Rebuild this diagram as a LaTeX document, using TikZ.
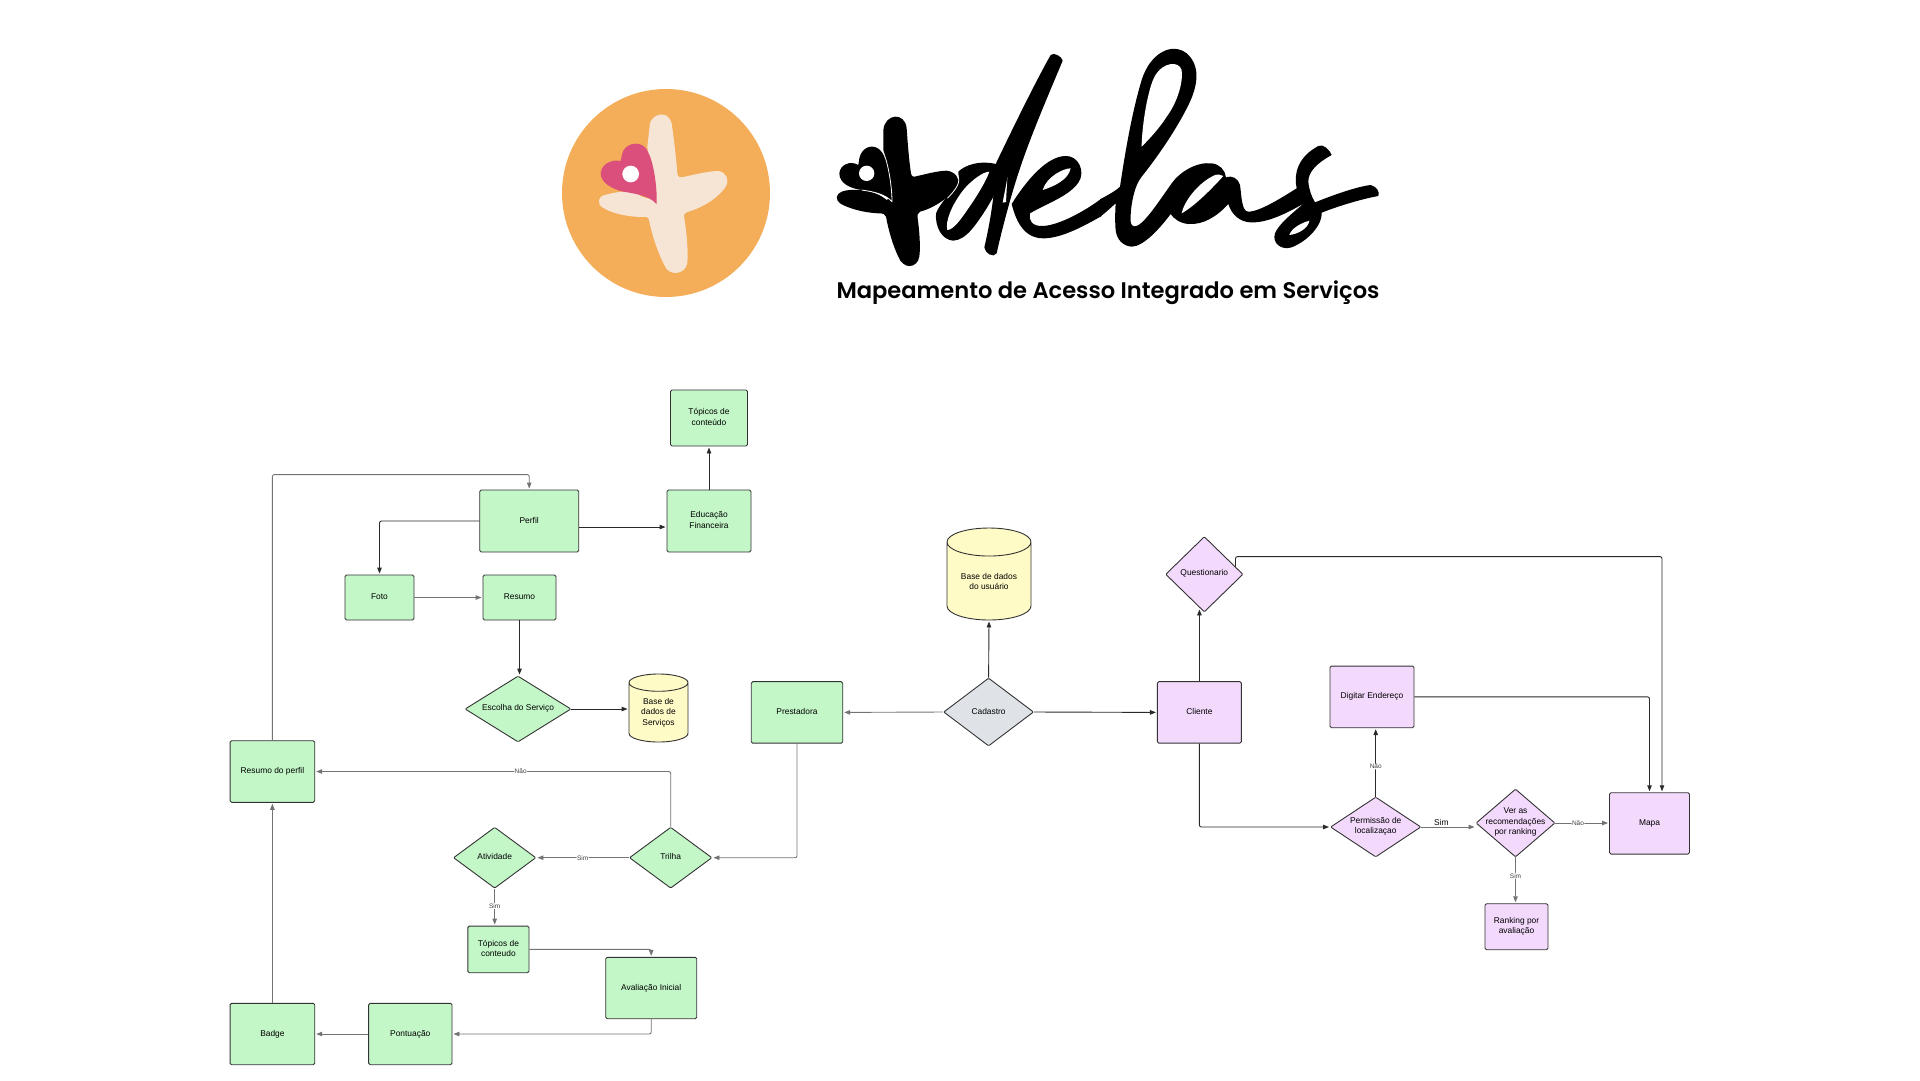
\documentclass[tikz,border=0pt]{standalone}
\usepackage{fontspec}
\setmainfont{Liberation Sans}
\newfontfamily\fonttitulo{Poppins}[UprightFont=* SemiBold]
\usetikzlibrary{shapes.geometric,arrows.meta}
\definecolor{verde}{HTML}{C3F7C8}
\definecolor{lilas}{HTML}{F3D9FC}
\definecolor{amarelo}{HTML}{FFFBC7}
\definecolor{cinza}{HTML}{DFE3E8}
\definecolor{laranja}{HTML}{F4AD59}
\definecolor{creme}{HTML}{F6E5D4}
\definecolor{rosa}{HTML}{DB4F7C}
\definecolor{contorno}{HTML}{333333}
\newcommand{\fonteno}{\fontsize{8.4}{10.3}\selectfont}
\newcommand{\textolosango}[1]{\raisebox{-2.5pt}{\makebox[0pt]{\smash{\parbox[c]{80pt}{\centering #1}}}}}
\begin{document}
\begin{tikzpicture}[x=1pt,y=-1pt,line join=round,font=\fonteno,
	caixa/.style={draw=contorno,line width=0.9pt,rounded corners=1.5pt,align=center,inner sep=1pt,text depth=2pt},
	losango/.style={diamond,draw=contorno,line width=0.9pt,rounded corners=1pt,inner sep=0pt},
	banco/.style={cylinder,shape border rotate=90,anchor=shape center,draw=contorno,line width=0.9pt,fill=amarelo,align=center,inner sep=0pt},
	seta/.style={draw=contorno!80!black,line width=0.9pt,rounded corners=2pt,shorten >=1pt,-{Stealth[inset=0pt,length=6pt,width=4.5pt]}},
	setacinza/.style={seta,draw=black!55,line width=0.9pt},
	rotulo/.style={font=\fontsize{6.5}{7}\selectfont,text=black!75,fill=white,inner sep=0.4pt}]
	\useasboundingbox(0,0)rectangle(1920,1080);
	%%%%%%%%%ICON
	\tikzset{Icon-marca/.pic={
			\fill[laranja](288,309)circle(312);
			%Cruz
			\fill[creme](240,100)..controls(245,75) and (292,55)..(305,100)..controls(312,150) and (318,200)..(322,250)..controls(323,262) and (330,264)..(345,260)..controls(380,252) and (420,243)..(445,243)..controls(468,246) and (480,270)..(467,290)..controls(440,330) and (390,355)..(350,367)..controls(340,372) and (341,378)..(343,385)..controls(350,430) and (355,480)..(352,520)..controls(345,555) and (295,560)..(283,525)..controls(260,480) and (245,430)..(237,390)..controls(234,380) and (228,380)..(215,381)..controls(170,380) and (125,370)..(97,352)..controls(80,340) and (85,318)..(105,315)..controls(130,307) and (190,295)..(215,320)--(250,330)--(232,170)--cycle;
			%Coracao
			\fill[rosa](260,342)..controls(262,290) and (250,200)..(225,172)..controls(205,152) and (165,160)..(157,190)..controls(154,200) and (154,205)..(152,213)..controls(130,208) and (95,218)..(92,250)..controls(92,280) and (130,298)..(160,305)..controls(205,312) and (240,320)..(257,340)--cycle;
			\fill[white](182,252)circle(25);
	}}
	%%%%%%%%%%%%%%%%%%%Letras
	\tikzset{Icon-mais/.pic={
			%d
			\fill[black](385,395)..controls(405,375) and (450,360)..(497,372)--(525,410)--(470,505)..controls(440,550) and (410,600)..(370,602)..controls(335,600) and (315,560)..(318,520)..controls(330,490) and (360,460)..(385,430)--cycle;
			\fill[white](352,570)..controls(345,545) and (365,495)..(400,450)..controls(425,420) and (460,395)..(478,395)..controls(470,420) and (440,470)..(415,505)..controls(395,535) and (370,570)..(352,570)--cycle;
			\fill[black](662,45)..controls(670,36) and (695,48)..(698,62)..controls(670,130) and (600,290)..(565,400)..controls(545,460) and (515,570)..(500,640)..controls(490,655) and (465,640)..(463,622)..controls(480,550) and (495,460)..(497,372)..controls(560,240) and (625,110)..(662,45)--cycle;
			\fill[white](532,412)..controls(528,440) and (522,465)..(518,488)--(528,486)--cycle;
			%e
			\fill[black](545,492)..controls(590,420) and (650,350)..(705,348)..controls(745,345) and (768,395)..(745,428)..controls(715,470) and (650,490)..(600,520)..controls(595,540) and (605,560)..(640,558)..controls(690,555) and (770,510)..(815,475)--(815,528)..controls(750,565) and (690,595)..(640,595)..controls(575,595) and (555,530)..(545,492)--cycle;
			\fill[white](638,450)..controls(650,410) and (700,385)..(722,385)..controls(715,420) and (670,440)..(638,450)--cycle;
			%mais
			\fill[black](160,270)..controls(165,220) and (225,215)..(230,265)..controls(233,310) and (238,370)..(243,400)..controls(245,410) and (250,412)..(262,408)..controls(290,402) and (320,393)..(350,392)..controls(375,395) and (392,415)..(382,435)..controls(365,470) and (310,505)..(270,515)..controls(262,520) and (262,525)..(263,535)..controls(268,570) and (272,620)..(268,650)..controls(262,685) and (220,690)..(205,650)..controls(190,620) and (175,570)..(168,530)..controls(165,522) and (160,520)..(145,520)..controls(100,518) and (55,505)..(30,490)..controls(15,478) and (18,462)..(35,455)..controls(60,445) and (130,445)..(170,480)--(185,470)--(160,330)--cycle;
			\draw[white,line width=0.8pt](362,385)..controls(385,395) and (392,415)..(382,437)..controls(375,450) and (365,462)..(352,475);
			%coracao
			\fill[black](185,483)..controls(185,430) and (170,345)..(150,330)..controls(130,310) and (95,320)..(88,355)..controls(86,365) and (86,370)..(85,375)..controls(60,360) and (30,375)..(28,400)..controls(28,430) and (60,445)..(95,450)..controls(130,455) and (165,462)..(185,483)--cycle;
			\draw[white,line width=0.8pt](152,322)..controls(170,345) and (186,430)..(186,485)..controls(165,462) and (130,455)..(95,450);
			\fill[white](110,400)circle(23);
	}}
	\tikzset{Icon-las/.pic={
			\fill[black](0,478)..controls(30,462) and (50,450)..(60,440)..controls(75,340) and (95,220)..(125,120)..controls(150,40) and (215,5)..(260,40)..controls(300,75) and (295,130)..(270,185)..controls(230,270) and (165,360)..(125,410)..controls(100,440) and (90,510)..(92,545)..controls(95,565) and (110,562)..(125,548)..controls(150,525) and (180,480)..(215,430)..controls(240,395) and (290,365)..(335,370)..controls(360,373) and (375,390)..(378,412)..controls(395,405) and (415,415)..(420,435)..controls(425,470) and (425,515)..(445,515)..controls(480,515) and (550,470)..(590,445)..controls(580,400) and (595,350)..(655,318)..controls(668,310) and (690,330)..(695,345)..controls(650,370) and (625,395)..(625,425)..controls(627,450) and (635,470)..(645,487)..controls(700,465) and (770,440)..(812,435)..controls(830,440) and (840,455)..(835,468)..controls(780,478) and (710,500)..(665,518)..controls(668,550) and (630,600)..(575,622)..controls(545,632) and (515,610)..(525,580)..controls(535,555) and (570,525)..(612,490)..controls(560,520) and (500,550)..(450,547)..controls(420,545) and (395,525)..(385,492)..controls(350,530) and (310,555)..(265,552)..controls(240,550) and (220,535)..(212,522)..controls(180,565) and (130,620)..(95,620)..controls(70,618) and (50,600)..(47,570)..controls(45,550) and (45,520)..(47,490)..controls(30,505) and (15,520)..(0,530)--cycle;
			%furos
			\fill[white](125,320)..controls(125,260) and (145,130)..(170,100)..controls(190,70) and (235,60)..(245,90)..controls(250,130) and (230,190)..(200,230)..controls(180,262) and (150,295)..(125,320)--cycle;
			\fill[white](245,520)..controls(250,490) and (290,430)..(345,405)..controls(355,402) and (365,405)..(370,408)..controls(350,430) and (290,495)..(245,520)--cycle;
			\fill[white](568,585)..controls(575,565) and (600,550)..(628,542)..controls(625,565) and (595,582)..(568,585)--cycle;
	}}
	\path(570,90)pic[scale=1/3]{Icon-marca};
	\path(830,40)pic[scale=1/3]{Icon-mais}(1100,40)pic[scale=1/3]{Icon-las};
	\node[font=\fonttitulo\fontsize{22.6}{26}\selectfont] (titulo) at (1108,293) {Mapeamento de Acesso Integrado em Serviços};
	%%%%%%%%%%%%%%%%%%%%Prestadora
	\node[caixa,fill=verde,minimum width=77pt,minimum height=56pt] (TopicosEdu) at (709,418) {Tópicos de\\conteúdo};
	\node[caixa,fill=verde,minimum width=99pt,minimum height=62pt] (Perfil) at (529.2,521) {Perfil};
	\node[caixa,fill=verde,minimum width=84pt,minimum height=62pt] (Educacao) at (709,521) {Educação\\Financeira};
	\node[caixa,fill=verde,minimum width=69pt,minimum height=45pt] (Foto) at (379.5,597.5) {Foto};
	\node[caixa,fill=verde,minimum width=73pt,minimum height=45pt] (Resumo) at (519.5,597.5) {Resumo};
	\node[losango,fill=verde,minimum width=106pt,minimum height=66pt] (Escolha) at (518,709) {\textolosango{Escolha do Serviço}};
	\node[banco,minimum width=59pt,minimum height=68pt,aspect=0.5] (BaseServicos) at (658.5,708) {Base de\\dados de\\Serviços};
	\node[caixa,fill=verde,minimum width=91.5pt,minimum height=61.5pt] (Prestadora) at (797,712.4) {Prestadora};
	\node[losango,fill=verde,minimum width=82.6pt,minimum height=61pt] (Trilha) at (670.7,857.7) {\textolosango{Trilha}};
	\node[losango,fill=verde,minimum width=82.5pt,minimum height=61pt] (Atividade) at (494.7,857.7) {\textolosango{Atividade}};
	\node[caixa,fill=verde,minimum width=84.7pt,minimum height=61.6pt] (ResumoPerfil) at (272.4,771.5) {Resumo do perfil};
	\node[caixa,fill=verde,minimum width=84.7pt,minimum height=61.4pt] (Badge) at (272.4,1034) {Badge};
	\node[caixa,fill=verde,minimum width=83.4pt,minimum height=61.4pt] (Pontuacao) at (410.3,1034) {Pontuação};
	\node[caixa,fill=verde,minimum width=91pt,minimum height=61.4pt] (Avaliacao) at (651.2,988) {Avaliação Inicial};
	\node[caixa,fill=verde,minimum width=61.2pt,minimum height=46.7pt] (TopicosAti) at (498.4,949.4) {Tópicos de\\conteudo};
	%%%%%%%%%%%%%%%%%%%%Centro
	\node[losango,fill=cinza,minimum width=90pt,minimum height=68pt] (Cadastro) at (988.6,712) {\textolosango{Cadastro}};
	\node[banco,minimum width=84pt,minimum height=92pt,aspect=0.5] (BaseUsuario) at (989,574) {Base de dados\\do usuário};
	%%%%%%%%%%%%%%%%%%%%Cliente
	\node[caixa,fill=lilas,minimum width=84pt,minimum height=61.5pt] (Cliente) at (1199.4,712.4) {Cliente};
	\node[losango,fill=lilas,minimum width=77.4pt,minimum height=75.4pt] (Questionario) at (1204.3,574.3) {\textolosango{Questionario}};
	\node[caixa,fill=lilas,minimum width=84pt,minimum height=61.7pt] (Digitar) at (1372,696.9) {Digitar Endereço};
	\node[caixa,fill=lilas,minimum width=80pt,minimum height=61.3pt] (Mapa) at (1649.5,823.4) {Mapa};
	\node[losango,fill=lilas,minimum width=90.5pt,minimum height=60pt] (Permissao) at (1375.7,827) {\textolosango{Permissão de\\localizaçao}};
	\node[losango,fill=lilas,minimum width=79pt,minimum height=68pt] (Recomenda) at (1515.5,823) {\textolosango{Ver as\\recomendações\\por ranking}};
	\node[caixa,fill=lilas,minimum width=63pt,minimum height=46pt] (Ranking) at (1516.5,926.7) {Ranking por\\avaliação};
	%%%%%%%%%%%%%%%%%%%%Setas
	\draw[seta](Educacao.north)--(TopicosEdu.south);
	\draw[seta]([yshift=-6pt]Perfil.east)--([yshift=-6pt]Educacao.west);
	\draw[seta](Perfil.west)-|(Foto.north);
	\draw[setacinza](Foto.east)--(Resumo.west);
	\draw[seta](Resumo.south)--(Resumo.south|-Escolha.north);
	\draw[seta](Escolha.east)--(Escolha.east-|BaseServicos.west);
	\draw[setacinza](ResumoPerfil.north)|-([yshift=15pt]Perfil.north)--(Perfil.north);
	\draw[setacinza](Cadastro.west)--(Prestadora.east);
	\draw[seta](Cadastro.east)--(Cliente.west);
	\draw[seta](Cadastro.north)--(BaseUsuario.south);
	\draw[setacinza](Prestadora.south)|-(Trilha.east);
	\draw[setacinza](Trilha.north)|-(ResumoPerfil.east)node[rotulo,pos=0.711](naoTrilha){Não};
	\draw[setacinza](Trilha.west)--(Atividade.east)node[rotulo,midway](simTrilha){Sim};
	\draw[setacinza](Atividade.south)--(Atividade.south|-TopicosAti.north)node[rotulo,pos=0.47](simAtividade){Sim};
	\draw[setacinza](TopicosAti.east)-|(Avaliacao.north);
	\draw[setacinza](Avaliacao.south)|-(Pontuacao.east);
	\draw[setacinza](Pontuacao.west)--(Badge.east);
	\draw[setacinza](Badge.north)--(ResumoPerfil.south);
	\draw[seta,shorten >=-3pt](Cliente.north)--(Cliente.north|-Questionario.south);
	\draw[seta](Cliente.south)|-(Permissao.west);
	\draw[seta](Permissao.north)--(Permissao.north|-Digitar.south)node[rotulo,pos=0.44](naoPermissao){Não};
	\draw[setacinza](Permissao.east)--(Permissao.east-|Recomenda.west)node[pos=0.37,above,inner sep=1pt](simPermissao){Sim};
	\draw[setacinza](Recomenda.east)--(Recomenda.east-|Mapa.west)node[rotulo,pos=0.42](naoRecomenda){Não};
	\draw[setacinza](Recomenda.south)--(Recomenda.south|-Ranking.north)node[rotulo,pos=0.4](simRecomenda){Sim};
	\draw[seta](Digitar.east)-|(Mapa.north);
	\draw[seta](Questionario.14)|-([xshift=12.5pt,yshift=235.7pt]Mapa.north)--([xshift=12.5pt]Mapa.north);
\end{tikzpicture}
\end{document}
